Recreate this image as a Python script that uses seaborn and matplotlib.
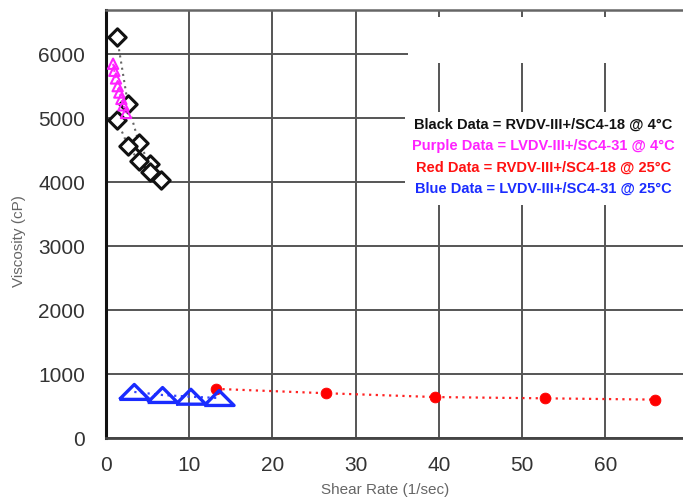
import matplotlib
matplotlib.use("Agg")
import matplotlib.pyplot as plt
import matplotlib.patches as mpatches
import seaborn as sns
import pandas as pd

# ---- data ----
black_x = [1.32, 2.64, 3.96, 5.28, 6.6, 5.28, 3.96, 2.64, 1.32]
black_y = [6270, 5214, 4610, 4286, 4036, 4160, 4333, 4567, 4973]

purple_x = [0.85, 1.0, 1.2, 1.4, 1.6, 1.85, 2.1, 2.4]
purple_y = [5850, 5740, 5620, 5500, 5400, 5300, 5200, 5080]

red_x = [13.2, 26.4, 39.6, 52.8, 66.0]
red_y = [768, 700, 640, 620, 600]

blue_x = [3.4, 6.8, 10.2, 13.6]
blue_y = [720, 672, 645, 625]

x_ticks = [0, 10, 20, 30, 40, 50, 60]
y_ticks = [0, 1000, 2000, 3000, 4000, 5000, 6000]

legend_lines = [
    ("Black Data = RVDV-III+/SC4-18 @ 4°C", "#111111"),
    ("Purple Data = LVDV-III+/SC4-31 @ 4°C", "#ff22ff"),
    ("Red Data = RVDV-III+/SC4-18 @ 25°C", "#ff1111"),
    ("Blue Data = LVDV-III+/SC4-31 @ 25°C", "#1a2cff"),
]

sns.set_style("white")
plt.rcParams['font.family'] = ['Liberation Sans', 'DejaVu Sans']

fig = plt.figure(figsize=(6.83, 5.01), dpi=100)
ax = fig.add_axes([106/683, 63/501, 582.4/683, 428/501])

ax.set_xlim(0, 70)
ax.set_ylim(0, 6690)
ax.set_xticks(x_ticks)
ax.set_yticks(y_ticks)
ax.grid(True, color="#555555", linewidth=1.4, zorder=0)
ax.set_axisbelow(True)

# white patch covering top-right of grid
ax.add_patch(mpatches.Rectangle((36.3, 5860), 33.0, 720, facecolor="white",
                                edgecolor="none", zorder=1.5))

df_b = pd.DataFrame({"x": black_x, "y": black_y})
df_p = pd.DataFrame({"x": purple_x, "y": purple_y})
df_r = pd.DataFrame({"x": red_x, "y": red_y})
df_bl = pd.DataFrame({"x": blue_x, "y": blue_y})

dot = (0, (1, 2))
sns.lineplot(data=df_b, x="x", y="y", ax=ax, sort=False, estimator=None,
             color="#666666", linestyle=dot, linewidth=1.5, zorder=2)
sns.scatterplot(data=df_b, x="x", y="y", ax=ax, marker="D", s=78,
                facecolor="white", edgecolor="#111111", linewidth=2.2, zorder=3)

sns.lineplot(data=df_p, x="x", y="y", ax=ax, sort=False, estimator=None,
             color="#ff33ff", linestyle=dot, linewidth=1.5, zorder=4)
sns.scatterplot(data=df_p, x="x", y="y", ax=ax, marker="^", s=55,
                facecolor="none", edgecolor="#ff22ff", linewidth=1.5, zorder=4)

sns.lineplot(data=df_r, x="x", y="y", ax=ax, sort=False, estimator=None,
             color="#ff2222", linestyle=dot, linewidth=1.6, zorder=2)
sns.scatterplot(data=df_r, x="x", y="y", ax=ax, marker="o", s=60,
                color="#ff0000", edgecolor="#ff0000", zorder=3)

sns.lineplot(data=df_bl, x="x", y="y", ax=ax, sort=False, estimator=None,
             color="#3344ff", linestyle=dot, linewidth=1.6, zorder=2)
wide_tri = [(-1.0, -0.5), (1.0, -0.5), (0.0, 0.5), (-1.0, -0.5)]
sns.scatterplot(data=df_bl, x="x", y="y", ax=ax, marker=wide_tri, s=460,
                facecolor="none", edgecolor="#1a2cff", linewidth=2.4, zorder=3)

# legend-like text block
ys = [125, 146, 168, 189]
for (txt, col), py in zip(legend_lines, ys):
    yd = (438 - py) / 64.0 * 1000
    ax.text(52.6, yd, txt, color=col, fontsize=10.5, fontweight="bold",
            ha="center", va="center", zorder=5)
ax.add_patch(mpatches.Rectangle((35.9, (438 - 205) / 64.0 * 1000), 34, 1450,
                                facecolor="white", edgecolor="none", zorder=1.6))

ax.set_xlabel("Shear Rate (1/sec)", fontsize=11, color="#666666")
ax.set_ylabel("Viscosity (cP)", fontsize=11, color="#666666")
ax.xaxis.set_label_coords((385 - 106) / 582.4, -0.104)
ax.yaxis.set_label_coords(-(106 - 26) / 582.4, 0.46)

ax.tick_params(axis="y", length=0, labelsize=15, labelcolor="#333333", pad=15)
ax.tick_params(axis="x", length=0, labelsize=15, labelcolor="#333333", pad=13)

ax.spines["left"].set_color("#111111")
ax.spines["left"].set_linewidth(2.2)
ax.spines["bottom"].set_color("#444444")
ax.spines["bottom"].set_linewidth(2.0)
ax.spines["top"].set_color("#666666")
ax.spines["top"].set_linewidth(1.8)
ax.spines["right"].set_visible(False)

fig.savefig("out.png", dpi=100)
